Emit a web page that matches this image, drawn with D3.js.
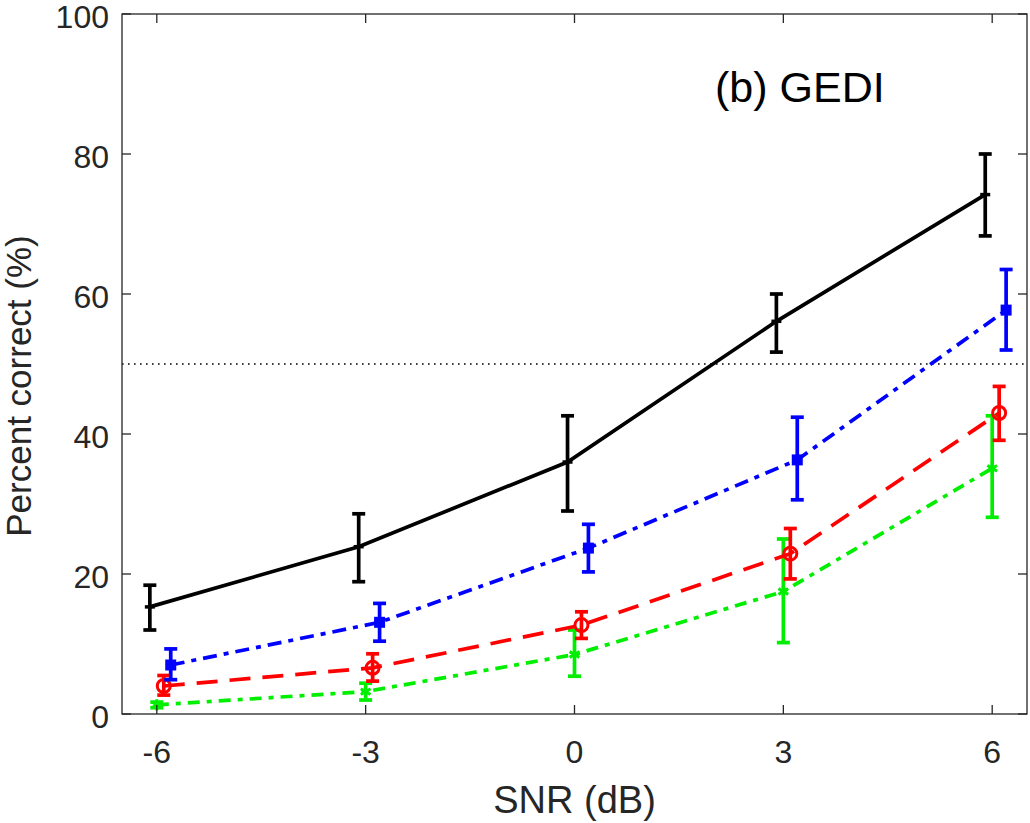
<!DOCTYPE html>
<html>
<head>
<meta charset="utf-8">
<script src="https://cdn.jsdelivr.net/npm/d3@7"></script>
<style>
  body { margin: 0; background: #fff; }
  svg { display: block; font-family: "Liberation Sans", Arial, sans-serif; }
</style>
</head>
<body>
<div id="chart"></div>
<script>
// values
var snr = [-6, -3, 0, 3, 6];
var xTicks = [-6, -3, 0, 3, 6];
var yTicks = [0, 20, 40, 60, 80, 100];

var blackMean = [15.3, 23.9, 36.0, 56.1, 74.2];
var blackLo   = [12.0, 18.9, 29.0, 51.7, 68.3];
var blackHi   = [18.4, 28.6, 42.6, 60.0, 80.0];

var blueMean = [7.0, 13.1, 23.7, 36.3, 57.7];
var blueLo   = [4.9, 10.4, 20.3, 30.6, 52.0];
var blueHi   = [9.3, 15.8, 27.1, 42.4, 63.5];

var redMean = [4.0, 6.6, 12.7, 22.9, 43.0];
var redLo   = [2.7, 4.7, 10.8, 19.3, 39.1];
var redHi   = [5.5, 8.6, 14.6, 26.5, 46.8];

var greenMean = [1.3, 3.2, 8.5, 17.5, 35.1];
var greenLo   = [0.9, 2.0, 5.4, 10.2, 28.1];
var greenHi   = [1.7, 4.4, 12.0, 25.0, 42.6];

var refLine = 50;

var width = 1030, height = 823;
var margin = {left: 122, right: 3, top: 14, bottom: 109};

var svg = d3.select('#chart').append('svg')
    .attr('width', width)
    .attr('height', height);

var x = d3.scaleLinear().domain([-6.5, 6.5]).range([margin.left, width - margin.right]);
var y = d3.scaleLinear().domain([0, 100]).range([height - margin.bottom, margin.top]);

var axisColor = '#262626';

// reference line at 50%
svg.append('line')
    .attr('x1', x(-6.5)).attr('x2', x(6.5))
    .attr('y1', y(refLine)).attr('y2', y(refLine))
    .attr('stroke', '#000').attr('stroke-width', 1.6)
    .attr('stroke-dasharray', '1.6,4.4');

var series = [
    {mean: blackMean, lo: blackLo, hi: blackHi, color: '#000000', dx: -0.1, dash: null, marker: 'dot'},
    {mean: greenMean, lo: greenLo, hi: greenHi, color: '#00ee00', dx: 0, dash: '12,7,5,7', marker: 'star'},
    {mean: redMean, lo: redLo, hi: redHi, color: '#ff0000', dx: 0.1, dash: '21,12', marker: 'circle'},
    {mean: blueMean, lo: blueLo, hi: blueHi, color: '#0000ff', dx: 0.2, dash: '14,7,5,7', marker: 'square'}
];

var line = d3.line().x(d => x(d.x)).y(d => y(d.m));
var capW = 6.5;

series.forEach(function (s) {
    var pts = snr.map((v, i) => ({x: v + s.dx, m: s.mean[i], lo: s.lo[i], hi: s.hi[i]}));
    var g = svg.append('g');

    g.append('path').datum(pts)
        .attr('d', line)
        .attr('fill', 'none')
        .attr('stroke', s.color)
        .attr('stroke-width', 3.7)
        .attr('stroke-dasharray', s.dash);

    var eb = g.selectAll('.eb').data(pts).enter().append('g')
        .attr('stroke', s.color).attr('stroke-width', 3.7);
    eb.append('line')
        .attr('x1', d => x(d.x)).attr('x2', d => x(d.x))
        .attr('y1', d => y(d.lo)).attr('y2', d => y(d.hi));
    eb.append('line')
        .attr('x1', d => x(d.x) - capW).attr('x2', d => x(d.x) + capW)
        .attr('y1', d => y(d.lo)).attr('y2', d => y(d.lo));
    eb.append('line')
        .attr('x1', d => x(d.x) - capW).attr('x2', d => x(d.x) + capW)
        .attr('y1', d => y(d.hi)).attr('y2', d => y(d.hi));

    if (s.marker == 'square') {
        g.selectAll('.mk').data(pts).enter().append('rect')
            .attr('x', d => x(d.x) - 5.5).attr('y', d => y(d.m) - 5.5)
            .attr('width', 11).attr('height', 11)
            .attr('fill', s.color);
    } else if (s.marker == 'circle') {
        g.selectAll('.mk').data(pts).enter().append('circle')
            .attr('cx', d => x(d.x)).attr('cy', d => y(d.m)).attr('r', 6.5)
            .attr('fill', 'none').attr('stroke', s.color).attr('stroke-width', 3);
    } else if (s.marker == 'star') {
        g.selectAll('.mk').data(pts).enter().append('path')
            .attr('transform', d => `translate(${x(d.x)},${y(d.m)})`)
            .attr('d', d3.symbol(d3.symbolAsterisk, 90))
            .attr('fill', 'none').attr('stroke', s.color).attr('stroke-width', 3);
    } else {
        g.selectAll('.mk').data(pts).enter().append('line')
            .attr('x1', d => x(d.x) - 5).attr('x2', d => x(d.x) + 5)
            .attr('y1', d => y(d.m)).attr('y2', d => y(d.m))
            .attr('stroke', s.color).attr('stroke-width', 3.5);
    }
});

// axes box
var x0 = x(-6.5), x1 = x(6.5), y0 = y(0), y1 = y(100);
svg.append('rect')
    .attr('x', x0).attr('y', y1)
    .attr('width', x1 - x0).attr('height', y0 - y1)
    .attr('fill', 'none').attr('stroke', axisColor).attr('stroke-width', 1.3);

var tickLen = 9;
var ticks = svg.append('g').attr('stroke', axisColor).attr('stroke-width', 1.3);
xTicks.forEach(function (t) {
    ticks.append('line').attr('x1', x(t)).attr('x2', x(t)).attr('y1', y0).attr('y2', y0 - tickLen);
    ticks.append('line').attr('x1', x(t)).attr('x2', x(t)).attr('y1', y1).attr('y2', y1 + tickLen);
});
yTicks.forEach(function (t) {
    ticks.append('line').attr('x1', x0).attr('x2', x0 + tickLen).attr('y1', y(t)).attr('y2', y(t));
    ticks.append('line').attr('x1', x1).attr('x2', x1 - tickLen).attr('y1', y(t)).attr('y2', y(t));
});

svg.append('g').selectAll('text').data(xTicks).enter().append('text')
    .attr('x', d => x(d)).attr('y', 763)
    .attr('text-anchor', 'middle')
    .attr('font-size', 32).attr('fill', axisColor)
    .text(d => d);

svg.append('g').selectAll('text').data(yTicks).enter().append('text')
    .attr('x', 109).attr('y', d => y(d) + 13.5)
    .attr('text-anchor', 'end')
    .attr('font-size', 32).attr('fill', axisColor)
    .text(d => d);

svg.append('text')
    .attr('x', x(0)).attr('y', 813)
    .attr('text-anchor', 'middle')
    .attr('font-size', 38).attr('fill', axisColor)
    .text('SNR (dB)');

svg.append('text')
    .attr('transform', `translate(31,${(y0 + y1) / 2 + 22})rotate(-90)`)
    .attr('text-anchor', 'middle')
    .attr('font-size', 35).attr('fill', axisColor)
    .text('Percent correct (%)');

svg.append('text')
    .attr('x', 715).attr('y', 102)
    .attr('font-size', 43).attr('fill', '#000')
    .text('(b) GEDI');
</script>
</body>
</html>
